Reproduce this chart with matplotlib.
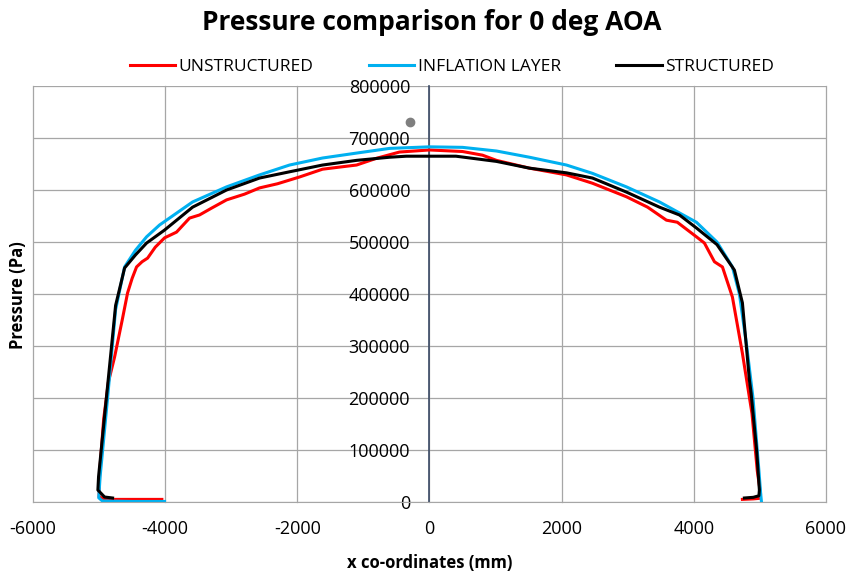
"""
Pressure comparison for 0 deg AOA - unstructured / inflation layer / structured meshes.
"""

import matplotlib
matplotlib.use("Agg")
import matplotlib.pyplot as plt

plt.rcParams['font.family'] = ['Open Sans', 'DejaVu Sans']

# x co-ordinates (mm) and pressure (Pa)
unstructured_x = [-4050, -4500, -4900, -5000, -4990, -4930, -4860, -4765, -4650, -4569,
                  -4500, -4433, -4350, -4266, -4150, -4009, -3828, -3631, -3480, -3300,
                  -3071, -2800, -2572, -2300, -1967, -1619, -1300, -1104, -802, -454,
                  0, 500, 802, 1013, 1513, 2073, 2466, 2980, 3300, 3585,
                  3750, 4039, 4160, 4312, 4433, 4584, 4735, 4880, 4960, 5010,
                  4990, 4900, 4735]
unstructured_p = [5000, 5000, 5000, 10000, 60000, 160000, 230000, 279000, 350000, 402000,
                  430000, 452000, 462000, 469000, 490000, 508000, 519000, 546000, 552000, 565000,
                  581000, 592000, 604000, 612000, 625000, 640000, 645000, 648000, 661000, 673000,
                  677000, 674000, 667000, 657000, 642000, 629000, 613000, 587000, 567000, 542000,
                  538000, 510000, 498000, 462000, 452000, 394000, 286000, 170000, 60000, 15000,
                  7000, 6000, 5000]

inflation_x = [-4009, -4500, -4950, -5005, -4985, -4870, -4750, -4700, -4614,
               -4450, -4281, -4085, -3585, -3071, -2572, -2118, -1619, -1104, -605,
               0, 500, 1013, 1513, 2073, 2466, 2980, 3480, 4039, 4350,
               4584, 4690, 4800, 4895, 4985, 5012, 5023]
inflation_p = [1000, 1000, 2000, 8000, 48000, 202000, 370000, 400000, 452000,
               484000, 510000, 532700, 577000, 606000, 629000, 648000, 661500, 671000, 680000,
               683000, 682000, 675000, 663000, 648000, 632000, 606000, 577000, 538000, 500000,
               452000, 400000, 300000, 200000, 60000, 15000, 1000]

structured_x = [-4796, -4917, -5018, -5008, -4750, -4614, -4450,
                -4281, -4009, -3585, -3071, -2572, -2118, -1619, -1104, -605, -350,
                0, 400, 1013, 1513, 2073, 2466, 2980, 3480, 3782, 4039,
                4350, 4614, 4735, 4841, 4867, 4950, 4992, 4985, 4900, 4765]
structured_p = [7700, 9600, 23000, 48700, 378000, 450000, 475000,
                498000, 523000, 567000, 600000, 623000, 635000, 648000, 657000, 663000, 665000,
                665000, 665000, 655000, 642000, 633000, 623000, 596000, 567000, 552000, 527000,
                495000, 446000, 383000, 234600, 209000, 100000, 23000, 12000, 9000, 7700]

# stray grey point on the original chart
stray_x = [-290]
stray_p = [730000]

x_ticks = [-6000, -4000, -2000, 0, 2000, 4000, 6000]
y_ticks = [0, 100000, 200000, 300000, 400000, 500000, 600000, 700000, 800000]

fig = plt.figure(figsize=(8.48, 5.74), dpi=100)
ax = fig.add_axes([33 / 848, 1 - 502 / 574, (826 - 33) / 848, (502 - 86) / 574])

ax.plot(unstructured_x, unstructured_p, color='#FF0000', lw=2.2, marker='None',
        label='UNSTRUCTURED', solid_joinstyle='round')
ax.plot(inflation_x, inflation_p, color='#00B0F0', lw=2.2, marker='None',
        label='INFLATION LAYER', solid_joinstyle='round')
ax.plot(structured_x, structured_p, color='#000000', lw=2.2, marker='None',
        label='STRUCTURED', solid_joinstyle='round')
ax.plot(stray_x, stray_p, linestyle='None', marker='o', markersize=6,
        color='#7F7F7F')

ax.set_xlim(-6000, 6000)
ax.set_ylim(0, 800000)
ax.set_xticks(x_ticks)
ax.set_yticks(y_ticks)
ax.set_xticklabels([str(v) for v in x_ticks])
ax.set_yticklabels([str(v) for v in y_ticks])
ax.tick_params(axis='x', length=0, pad=13, labelsize=13)
ax.tick_params(axis='y', length=0, pad=14, labelsize=13)

ax.grid(True, color='#A6A6A6', linewidth=0.9)
ax.set_axisbelow(True)
for line in ax.get_xgridlines() + ax.get_ygridlines():
    line.set_clip_on(False)

ax.spines['left'].set_position(('data', 0))
ax.spines['left'].set_color('#3B4A66')
ax.spines['left'].set_linewidth(1.2)
ax.spines['left'].set_zorder(1.5)
ax.spines['bottom'].set_color('#A6A6A6')
ax.spines['top'].set_visible(False)
ax.spines['right'].set_visible(False)

fig.text(432 / 848, 1 - 22 / 574, 'Pressure comparison for 0 deg AOA',
         ha='center', va='center', fontsize=19, fontweight='bold')
fig.text(430 / 848, 1 - 563 / 574, 'x co-ordinates (mm)',
         ha='center', va='center', fontsize=12, fontweight='bold')
fig.text(18 / 848, 1 - 295 / 574, 'Pressure (Pa)', rotation=90,
         ha='center', va='center', fontsize=12, fontweight='bold')

fig.legend(loc='center', bbox_to_anchor=(452 / 848, 1 - 67 / 574), ncol=3,
           frameon=False, fontsize=12.5, handlelength=2.6, handletextpad=0.2,
           columnspacing=3.2)

fig.savefig('out.png', dpi=100)
